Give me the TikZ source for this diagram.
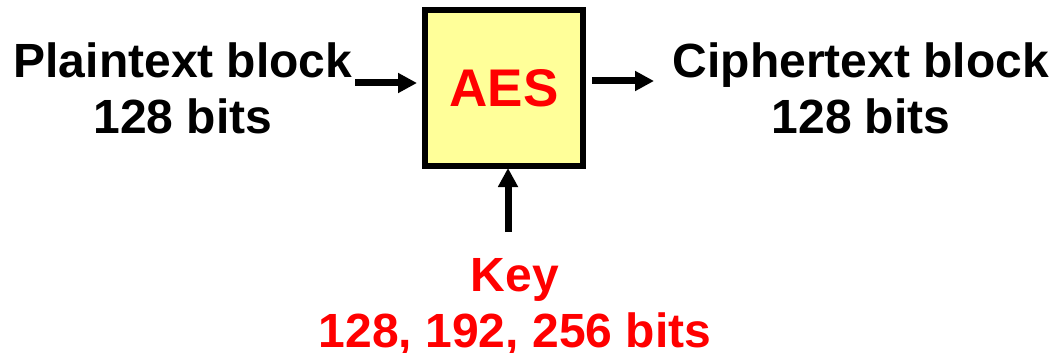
\documentclass[tikz,border=0pt]{standalone}
\usepackage{fontspec}
\setmainfont{Liberation Sans}
\usetikzlibrary{arrows.meta}
\definecolor{boxyellow}{HTML}{FFFF99}
\definecolor{keyred}{HTML}{FF0000}
\tikzset{
  lbl/.style={font=\fontsize{48}{56}\selectfont\bfseries, align=center, inner sep=0pt, anchor=base},
  cipherbox/.style={draw=black, line width=6pt, fill=boxyellow, minimum width=158pt, minimum height=156pt, inner sep=0pt,
    font=\fontsize{53}{60}\selectfont\bfseries, text=keyred},
  arr/.style={line width=7pt, -{Triangle[length=19pt,width=19pt]}}
}
\begin{document}
\begin{tikzpicture}[x=1pt,y=-1pt]
\useasboundingbox (0,0) rectangle (1058,353);
\node[cipherbox] (aes) at (504,88) {AES};
\node[lbl] (plain) at (183,133) {Plaintext block\\128 bits};
\node[lbl] (cipher) at (861,133) {Ciphertext block\\128 bits};
\node[lbl, text=keyred] (key) at (515,347) {Key\\128, 192, 256 bits};
\coordinate (pin) at (355,83);
\coordinate (cout) at (592,81);
\coordinate (kin) at (508,232);
\draw[arr] (pin) -- (pin -| aes.west) [shorten >=5pt];
\draw[arr] (cout) -- (654,81);
\draw[arr] (kin) -- (kin |- aes.south) [shorten >=-1pt];
\end{tikzpicture}
\end{document}
